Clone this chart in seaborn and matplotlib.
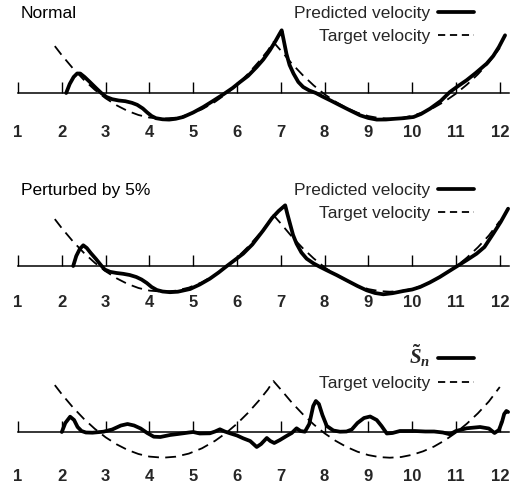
import matplotlib
matplotlib.use("Agg")
import matplotlib.pyplot as plt
import seaborn as sns
import pandas as pd
from matplotlib.lines import Line2D

# ---------------- data ----------------
tick_values = list(range(1, 13))

target_x = [1.84, 2.0, 2.25, 2.5, 2.75, 3.0, 3.25, 3.5, 3.75, 4.0, 4.31, 4.6, 4.9, 5.2,
            5.5, 5.75, 6.0, 6.25, 6.5, 6.7, 6.83,
            7.0, 7.25, 7.5, 7.75, 8.0, 8.25, 8.5, 8.75, 9.0, 9.25, 9.49, 9.75, 10.0,
            10.25, 10.5, 10.75, 11.0, 11.25, 11.5, 11.75, 12.0]
target_y = [4.69, 3.78, 2.48, 1.33, 0.33, -0.53, -1.23, -1.79, -2.20, -2.46, -2.57, -2.47,
            -2.16, -1.63, -0.88, -0.10, 0.83, 1.91, 3.14, 4.23, 5.1,
            4.25, 2.95, 1.79, 0.76, -0.13, -0.88, -1.49, -1.97, -2.31, -2.51, -2.57,
            -2.50, -2.28, -1.93, -1.45, -0.82, -0.06, 0.84, 1.87, 3.05, 4.5]

normal_x = [2.10, 2.18, 2.27, 2.35, 2.42, 2.52, 2.64, 2.78, 2.90, 3.02, 3.15, 3.30, 3.45,
            3.60, 3.72, 3.85, 3.95, 4.05, 4.15, 4.30, 4.45, 4.60, 4.77, 5.00, 5.23, 5.45,
            5.69, 5.90, 6.07, 6.25, 6.45, 6.60, 6.75, 6.88, 6.97, 7.02, 7.07, 7.13, 7.20,
            7.29, 7.40, 7.51, 7.65, 7.80, 7.95, 8.15, 8.35, 8.60, 8.81, 9.00, 9.19, 9.40,
            9.60, 9.80, 10.03, 10.20, 10.41, 10.65, 10.86, 11.05, 11.24, 11.45, 11.70,
            11.85, 11.98, 12.12]
normal_y = [0.0, 0.9, 1.6, 1.95, 1.95, 1.6, 1.1, 0.5, 0.0, -0.4, -0.62, -0.75, -0.82,
            -0.98, -1.18, -1.55, -1.95, -2.3, -2.52, -2.63, -2.66, -2.58, -2.4, -1.95, -1.4,
            -0.8, -0.13, 0.5, 1.1, 1.7, 2.6, 3.35, 4.27, 5.2, 5.9, 6.27, 5.2, 3.9, 2.8,
            1.94, 1.1, 0.6, 0.25, 0.0, -0.35, -0.78, -1.23, -1.78, -2.23, -2.5, -2.66, -2.65,
            -2.58, -2.52, -2.4, -2.1, -1.56, -0.8, 0.1, 0.7, 1.27, 2.0, 2.94,
            3.7, 4.6, 5.77]

perturbed_x = [2.26, 2.33, 2.41, 2.49, 2.57, 2.66, 2.78, 2.90, 2.98, 3.10, 3.25, 3.40, 3.55,
               3.70, 3.82, 3.94, 4.05, 4.17, 4.30, 4.47, 4.65, 4.93, 5.15, 5.38, 5.58, 5.76,
               5.95, 6.14, 6.35, 6.60, 6.80, 6.95, 7.10, 7.15, 7.21, 7.28, 7.36, 7.47, 7.59,
               7.75, 7.90, 8.05, 8.28, 8.50, 8.75, 8.96, 9.15, 9.34, 9.55, 9.80, 10.00, 10.18,
               10.40, 10.63, 10.83, 11.02, 11.25, 11.47, 11.65, 11.85, 12.02, 12.19]
perturbed_y = [0.0, 1.0, 1.7, 2.07, 1.8, 1.3, 0.7, 0.05, -0.35, -0.58, -0.7, -0.78, -0.9,
               -1.1, -1.35, -1.7, -2.1, -2.4, -2.55, -2.62, -2.57, -2.3, -1.85, -1.27, -0.65,
               -0.03, 0.6, 1.23, 2.15, 3.57, 4.8, 5.5, 6.07, 5.2, 4.23, 3.1, 2.23, 1.35, 0.73,
               0.25, -0.1, -0.43, -0.92, -1.43, -2.0, -2.43, -2.7, -2.83, -2.72, -2.5, -2.35,
               -2.1, -1.65, -1.1, -0.55, -0.03, 0.6, 1.23, 1.9, 3.23, 4.4, 5.73]

sn_x = [2.00, 2.08, 2.19, 2.28, 2.36, 2.45, 2.55, 2.70, 2.95, 3.15, 3.35, 3.50, 3.65, 3.80,
        3.95, 4.10, 4.25, 4.47, 4.65, 4.77, 4.90, 5.00, 5.15, 5.38, 5.50, 5.61, 5.72, 5.84,
        6.00, 6.14, 6.30, 6.45, 6.55, 6.68, 6.76, 6.85, 6.98, 7.13, 7.25, 7.36, 7.45, 7.55,
        7.65, 7.74, 7.80, 7.87, 7.95, 8.05, 8.20, 8.35, 8.50, 8.62, 8.75, 8.90, 9.04, 9.19,
        9.30, 9.42, 9.55, 9.72, 10.06, 10.30, 10.50, 10.70, 10.86, 11.00, 11.24, 11.55,
        11.75, 11.88, 11.98, 12.05, 12.10, 12.15, 12.19]
sn_y = [0.0, 0.9, 1.53, 1.2, 0.5, 0.1, -0.05, -0.07, 0.03, 0.25, 0.65, 0.8, 0.65, 0.35,
        -0.1, -0.47, -0.5, -0.3, -0.2, -0.13, -0.05, 0.0, -0.15, -0.13, 0.05, 0.27, 0.05,
        -0.13, -0.35, -0.63, -0.9, -1.5, -1.2, -0.6, -0.9, -1.1, -0.8, -0.4, -0.1, 0.37,
        0.1, 0.03, 0.8, 2.6, 3.1, 2.8, 1.7, 0.6, 0.15, 0.03, 0.05, 0.25, 0.9, 1.4, 1.55,
        1.2, 0.6, -0.15, -0.1, 0.1, 0.1, 0.05, 0.05, -0.05, -0.23, 0.1, 0.37, 0.5,
        0.35, -0.1, 0.2, 1.0, 1.8, 2.1, 2.0]

panel_titles = ["Normal", "Perturbed by 5%", ""]
solid_labels = ["Predicted velocity", "Predicted velocity", r"$\tilde{S}_n$"]
dashed_label = "Target velocity"

# ---------------- style ----------------
sns.set_theme(style="white")
plt.rcParams["font.family"] = ["Liberation Sans", "DejaVu Sans"]
plt.rcParams["mathtext.fontset"] = "custom"
plt.rcParams["mathtext.it"] = "Liberation Serif:italic:bold"
plt.rcParams["mathtext.rm"] = "Liberation Serif:bold"

W, H = 526, 486
fig = plt.figure(figsize=(W / 100, H / 100), dpi=100)

solid_series = [(normal_x, normal_y), (perturbed_x, perturbed_y), (sn_x, sn_y)]
axis_rows = [93, 266, 432]        # pixel row of the zero line
label_pads = [32, 29, 37]         # px between zero line and tick labels
legend_tops = [6, 183, 342]
title_rows = [13, 190, None]

for i in range(3):
    y0 = axis_rows[i]
    top_px, bot_px = y0 - 88, y0 + 32
    ax = fig.add_axes([10 / W, 1 - bot_px / H, 506 / W, (bot_px - top_px) / H])
    ax.set_xlim(0.817, 12.37)
    ax.set_ylim(-3.2, 8.8)

    df_t = pd.DataFrame({"x": target_x, "y": target_y})
    sns.lineplot(data=df_t, x="x", y="y", ax=ax, color="black", lw=1.3,
                 linestyle=(0, (6.0, 3.5)), sort=False, estimator=None)
    sx, sy = solid_series[i]
    df_s = pd.DataFrame({"x": sx, "y": sy})
    sns.lineplot(data=df_s, x="x", y="y", ax=ax, color="black", lw=2.7,
                 sort=False, estimator=None)
    for ln in ax.get_lines():
        ln.set_solid_joinstyle("round")
        ln.set_solid_capstyle("round")

    for s in ["left", "top", "right"]:
        ax.spines[s].set_visible(False)
    ax.spines["bottom"].set_position(("data", 0))
    ax.spines["bottom"].set_bounds(1, 12.2)
    ax.spines["bottom"].set_linewidth(1.1)
    ax.spines["bottom"].set_color("black")
    ax.set_xticks(tick_values)
    ax.set_xticklabels([str(t) for t in tick_values], fontsize=12, fontweight="bold")
    ax.tick_params(axis="x", direction="in", length=8, width=1.0, color="black",
                   pad=label_pads[i] * 0.72, bottom=True)
    ax.set_yticks([])
    ax.set_xlabel("")
    ax.set_ylabel("")
    ax.patch.set_alpha(0)

    handles = [Line2D([], [], color="black", lw=2.7),
               Line2D([], [], color="black", lw=1.3, linestyle=(0, (4.0, 2.6)))]
    leg = ax.legend(handles, [solid_labels[i], dashed_label], loc="upper right",
                    bbox_to_anchor=(474 / W, 1 - legend_tops[i] / H),
                    bbox_transform=fig.transFigure, frameon=False, markerfirst=False,
                    fontsize=12.5, handlelength=2.1, handletextpad=0.4,
                    labelspacing=0.42, borderpad=0, borderaxespad=0)
    if i == 2:
        leg.get_texts()[0].set_fontsize(15)

    if panel_titles[i]:
        fig.text(21 / W, 1 - title_rows[i] / H, panel_titles[i], fontsize=12.5,
                 va="center", ha="left", color="black")

fig.savefig("out.png", dpi=100)
